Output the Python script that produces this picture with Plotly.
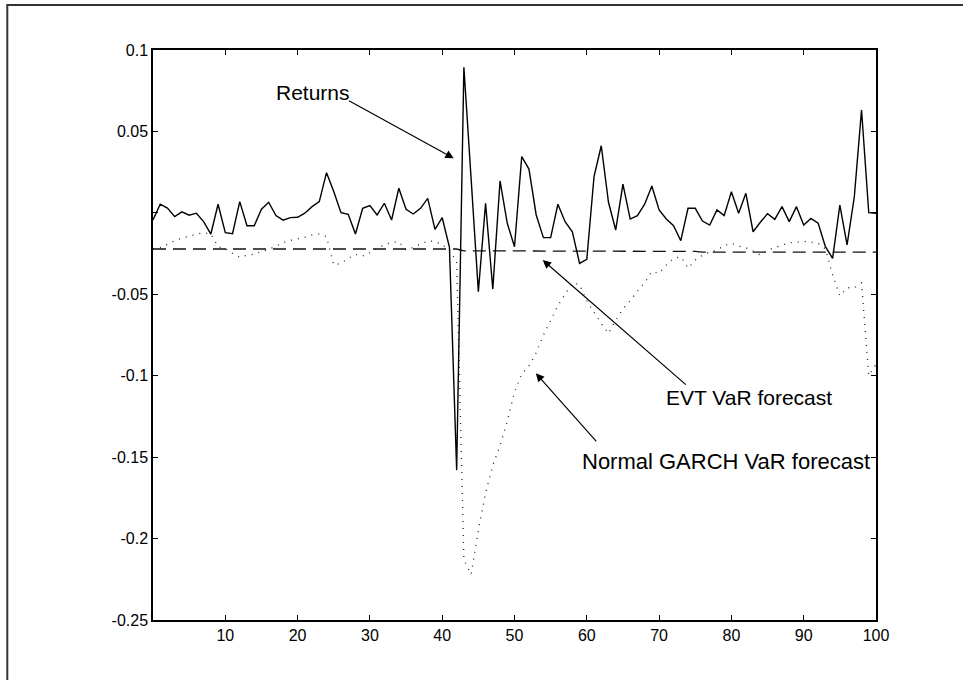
import plotly.graph_objects as go

days = list(range(0, 101))

returns = [
    -0.0044, 0.0053, 0.0029, -0.0023, 0.0006, -0.0014, -0.0002, -0.0054, -0.0130, 0.0053,
    -0.0122, -0.0128, 0.0069, -0.0079, -0.0079, 0.0022, 0.0065, -0.0017, -0.0045, -0.0029,
    -0.0027, -0.0002, 0.0038, 0.0069, 0.0247, 0.0131, 0.0001, -0.0009, -0.0130, 0.0028,
    0.0044, -0.0013, 0.0059, -0.0044, 0.0151, 0.0022, -0.0007, 0.0028, 0.0089, -0.0101,
    -0.0030, -0.0210, -0.1580, 0.0894, 0.0210, -0.0484, 0.0059, -0.0468, 0.0196, -0.0064,
    -0.0208, 0.0345, 0.0269, -0.0013, -0.0152, -0.0152, 0.0053, -0.0054, -0.0116, -0.0310,
    -0.0285, 0.0222, 0.0412, 0.0065, -0.0105, 0.0177, -0.0038, -0.0017, 0.0053, 0.0165,
    0.0018, -0.0038, -0.0079, -0.0171, 0.0028, 0.0028, -0.0050, -0.0075, 0.0018, -0.0017,
    0.0130, -0.0002, 0.0120, -0.0116, -0.0058, -0.0005, -0.0040, 0.0038, -0.0054, 0.0038,
    -0.0075, -0.0034, -0.0064, -0.0208, -0.0279, 0.0048, -0.0197, 0.0099, 0.0632, 0.0001,
    -0.0002,
]

garch_var = [
    -0.0222, -0.0214, -0.0193, -0.0171, -0.0156, -0.0142, -0.0132, -0.0122, -0.0130, -0.0208,
    -0.0218, -0.0248, -0.0273, -0.0261, -0.0253, -0.0238, -0.0224, -0.0204, -0.0183, -0.0169,
    -0.0161, -0.0150, -0.0136, -0.0130, -0.0146, -0.0320, -0.0310, -0.0279, -0.0255, -0.0265,
    -0.0245, -0.0218, -0.0197, -0.0181, -0.0177, -0.0228, -0.0212, -0.0191, -0.0173, -0.0175,
    -0.0195, -0.0228, -0.0300, -0.2130, -0.2220, -0.1950, -0.1720, -0.1550, -0.1430, -0.1280,
    -0.1100, -0.0990, -0.0940, -0.0860, -0.0750, -0.0660, -0.0570, -0.0500, -0.0430, -0.0440,
    -0.0540, -0.0610, -0.0680, -0.0740, -0.0660, -0.0590, -0.0540, -0.0480, -0.0430, -0.0360,
    -0.0370, -0.0320, -0.0280, -0.0270, -0.0340, -0.0290, -0.0260, -0.0240, -0.0230, -0.0200,
    -0.0187, -0.0204, -0.0214, -0.0234, -0.0259, -0.0228, -0.0214, -0.0197, -0.0183, -0.0181,
    -0.0175, -0.0179, -0.0187, -0.0222, -0.0380, -0.0510, -0.0460, -0.0460, -0.0430, -0.1000,
    -0.0930,
]

evt_var = [-0.0222] * 43 + [-0.0233] * 13 + [-0.0237] * 20 + [-0.0241] * 25

x_ticks = [10, 20, 30, 40, 50, 60, 70, 80, 90, 100]
y_ticks = [-0.25, -0.2, -0.15, -0.1, -0.05, 0, 0.05, 0.1]
y_ticktext = ["-0.25", "-0.2", "-0.15", "-0.1", "-0.05", "", "0.05", "0.1"]

fig = go.Figure()
fig.add_trace(go.Scatter(x=days, y=garch_var, mode="lines",
                         line=dict(color="#222222", width=1.3, dash="1px,6px"),
                         name="Normal GARCH VaR forecast", hoverinfo="skip"))
fig.add_trace(go.Scatter(x=days, y=evt_var, mode="lines",
                         line=dict(color="#111111", width=1.3, dash="13px,7px"),
                         name="EVT VaR forecast", hoverinfo="skip"))
fig.add_trace(go.Scatter(x=days, y=returns, mode="lines",
                         line=dict(color="#000000", width=1.4),
                         name="Returns", hoverinfo="skip"))

fam = "Liberation Sans, Arial, Helvetica, sans-serif"

# arrows (head at x,y ; tail at ax,ay in data coords)
arrows = [
    (41.6, 0.0335, 26.9, 0.0693),
    (53.9, -0.0290, 73.9, -0.1063),
    (52.95, -0.0985, 61.5, -0.1413),
]
for hx, hy, tx, ty in arrows:
    fig.add_annotation(x=hx, y=hy, ax=tx, ay=ty, xref="x", yref="y", axref="x", ayref="y",
                       text="", showarrow=True, arrowhead=2, arrowsize=1.4,
                       arrowwidth=1.2, arrowcolor="#000", standoff=0, startstandoff=0)

labels = [
    ("Returns", 22.1, 0.0742, 21),
    ("EVT VaR forecast", 82.4, -0.1131, 21),
    ("Normal GARCH VaR forecast", 79.3, -0.1524, 22),
]
for txt, lx, ly, fs in labels:
    fig.add_annotation(x=lx, y=ly, xref="x", yref="y", text=txt, showarrow=False,
                       font=dict(family=fam, size=fs, color="#000"),
                       xanchor="center", yanchor="middle")

# outer frame of the figure (only top and left edges fall inside the page)
L, R, T, B = 152.7, 875.7, 50.0, 620.0
W, H = R - L, B - T
def px_to_paper_x(p):
    return (p - L) / W
def px_to_paper_y(p):
    return (B - p) / H
fig.add_shape(type="rect", xref="paper", yref="paper",
              x0=px_to_paper_x(7), x1=px_to_paper_x(975),
              y0=px_to_paper_y(695), y1=px_to_paper_y(5),
              line=dict(color="#333", width=2), fillcolor="rgba(0,0,0,0)", layer="below")

axis_font = dict(family=fam, size=16, color="#000")
fig.update_xaxes(range=[0, 100], tickvals=x_ticks, ticks="inside", ticklen=5, tickwidth=1,
                 tickcolor="#000", showline=True, linecolor="#000", linewidth=1.5, mirror="ticks",
                 showgrid=False, zeroline=False, tickfont=axis_font)
fig.update_yaxes(range=[-0.25, 0.1], tickvals=y_ticks, ticktext=y_ticktext, ticks="inside",
                 ticklen=5, tickwidth=1, tickcolor="#000", showline=True, linecolor="#000",
                 linewidth=1.5, mirror="ticks", showgrid=False, zeroline=False, tickfont=axis_font)

fig.update_layout(width=963, height=680, showlegend=False,
                  margin=dict(l=L, r=963 - R, t=T, b=680 - B, pad=0),
                  paper_bgcolor="white", plot_bgcolor="white")

fig.write_html("out.html")
